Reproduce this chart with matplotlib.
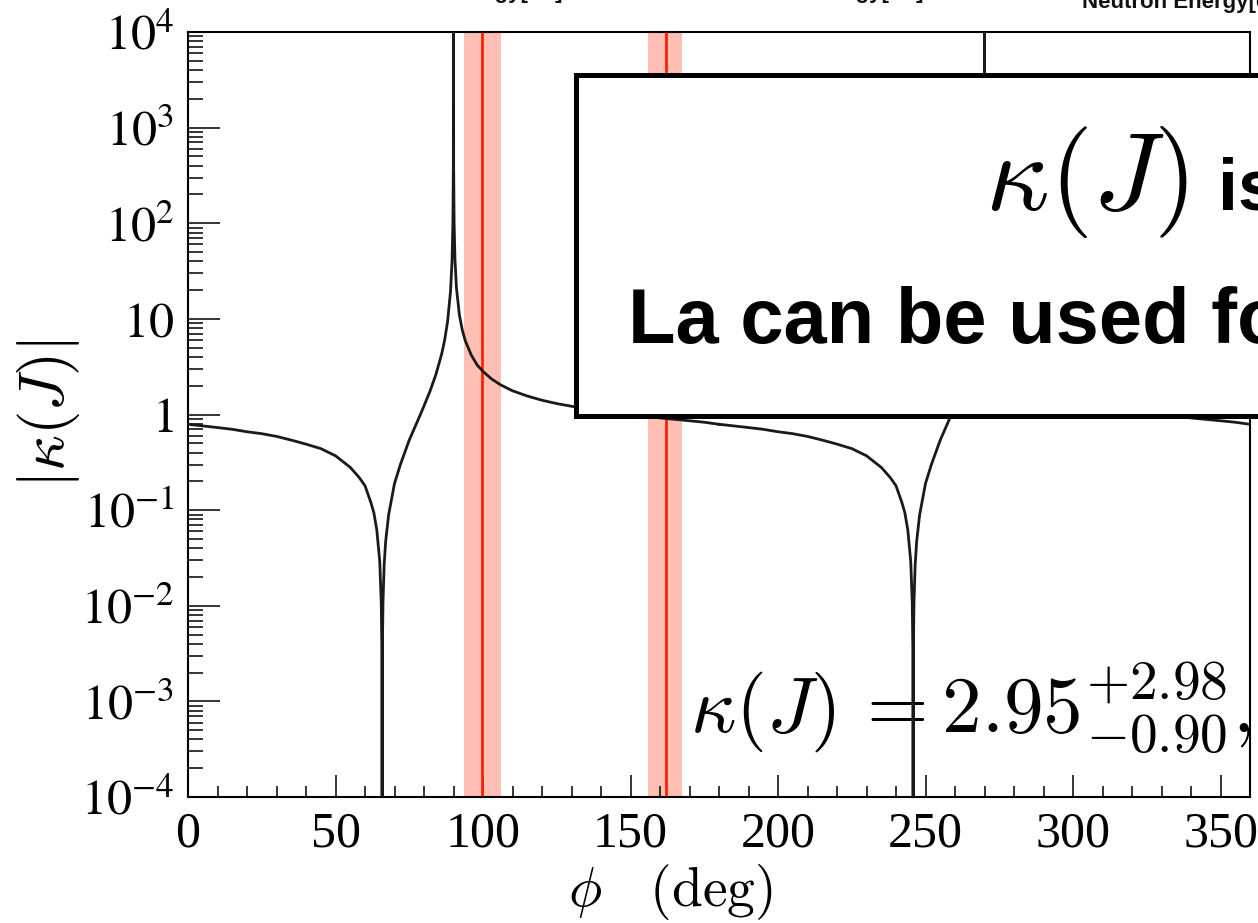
import matplotlib
matplotlib.use("Agg")
import matplotlib.pyplot as plt
from matplotlib.patches import Rectangle
from matplotlib.ticker import FixedLocator, LogLocator, MultipleLocator, NullFormatter

# 1. DATA
phi_a = [0, 5, 10, 15, 20, 25, 30, 35, 40, 45, 50, 55, 58, 60, 62, 63, 64, 65, 65.5, 65.7,
         65.8, 65.9, 66.1, 66.5, 67, 68, 70, 72, 75, 78, 80, 82, 84, 86, 87, 88, 89, 89.5,
         89.8, 89.95, 90, 90.05, 90.2, 90.5, 91, 92, 93, 94, 96, 98, 100, 103, 106, 110,
         115, 120, 125, 130, 135, 140, 145, 150, 155, 160, 165, 170, 175, 180]
phi_b = [180, 185, 190, 195, 200, 205, 210, 215, 220, 225, 230, 235, 238, 240, 242, 243, 244,
         245, 245.5, 245.7, 245.8, 245.9, 246.1, 246.5, 247, 248, 250, 252, 255, 258, 260,
         262, 264, 266, 267, 268, 269, 269.5, 269.8, 269.95, 270, 270.05, 270.2, 270.5, 271,
         272, 273, 274, 276, 278, 280, 283, 286, 290, 295, 300, 305, 310, 315, 320, 325, 330,
         335, 340, 345, 350, 355, 360]
kappa_a = [0.79, 0.76, 0.73, 0.70, 0.66, 0.63, 0.59, 0.54, 0.49, 0.44, 0.37, 0.28, 0.22, 0.18,
           0.12, 0.094, 0.062, 0.029, 0.011, 0.0037, 1e-6, 0.0037, 0.011, 0.027, 0.047, 0.089,
           0.19, 0.30, 0.54, 0.88, 1.23, 1.74, 2.6, 4.3, 6.0, 9.4, 19.6, 40, 101, 408, 1e6,
           409, 103, 42, 21, 11, 7.6, 5.9, 4.2, 3.3, 2.82, 2.34, 2.04, 1.77, 1.56, 1.41, 1.30,
           1.22, 1.15, 1.09, 1.04, 1.00, 0.96, 0.92, 0.89, 0.86, 0.83, 0.79]
kappa_b = [0.79, 0.76, 0.73, 0.70, 0.66, 0.63, 0.59, 0.54, 0.49, 0.44, 0.37, 0.28, 0.22, 0.18,
           0.12, 0.094, 0.062, 0.029, 0.011, 0.0037, 1e-6, 0.0037, 0.011, 0.027, 0.047, 0.089,
           0.19, 0.30, 0.54, 0.88, 1.23, 1.74, 2.6, 4.3, 6.0, 9.4, 19.6, 40, 101, 408, 1e6,
           409, 103, 42, 21, 11, 7.6, 5.9, 4.2, 3.3, 2.82, 2.34, 2.04, 1.77, 1.56, 1.41, 1.30,
           1.22, 1.15, 1.09, 1.04, 1.00, 0.96, 0.92, 0.89, 0.86, 0.83, 0.79]

res_phi = [99.5, 162.0]
res_lo = [93.5, 156.0]
res_hi = [106.0, 167.5]

ytick_vals = [1e-4, 1e-3, 1e-2, 1e-1, 1, 10, 1e2, 1e3, 1e4]
ytick_labels = [r"$10^{-4}$", r"$10^{-3}$", r"$10^{-2}$", r"$10^{-1}$", r"$1$", r"$10$",
                r"$10^{2}$", r"$10^{3}$", r"$10^{4}$"]
xtick_vals = [0, 50, 100, 150, 200, 250, 300, 350]

# 2. STYLE
plt.rcParams["font.family"] = ["Liberation Serif", "DejaVu Serif"]
plt.rcParams["mathtext.fontset"] = "stix"

W, H = 1258, 923
fig = plt.figure(figsize=(W / 100, H / 100), dpi=100)
ax = fig.add_axes([188 / W, 1 - 797 / H, (1250 - 188) / W, (797 - 32) / H])

# 3. PLOT
for lo, hi, c in zip(res_lo, res_hi, res_phi):
    ax.axvspan(lo, hi, color="#ffbfb4", lw=0, zorder=1)
    ax.axvline(c, color="#ff2200", lw=2.0, zorder=2)

ax.plot(phi_a, kappa_a, color="#1a1a1a", lw=2.0, zorder=4)
ax.plot(phi_b, kappa_b, color="#1a1a1a", lw=2.0, zorder=4)

ax.set_yscale("log")
ax.set_xlim(0, 360)
ax.set_ylim(1e-4, 1e4)

ax.yaxis.set_major_locator(FixedLocator(ytick_vals))
ax.set_yticklabels(ytick_labels)
ax.yaxis.set_minor_locator(LogLocator(base=10, subs=range(2, 10), numticks=20))
ax.yaxis.set_minor_formatter(NullFormatter())
ax.set_xticks(xtick_vals)
ax.xaxis.set_minor_locator(MultipleLocator(10))

ax.tick_params(which="both", direction="in", top=False, right=False, width=1.1,
               labelsize=36, pad=10)
ax.tick_params(axis="y", which="major", length=23)
ax.tick_params(axis="y", which="minor", length=11)
ax.tick_params(axis="x", which="major", length=16)
ax.tick_params(axis="x", which="minor", length=8)
for s in ax.spines.values():
    s.set_linewidth(1.5)

# axis titles
fig.text(48 / W, 1 - 414 / H, r"$|\kappa(J)|$", rotation=90, ha="center", va="center",
         fontsize=45, math_fontfamily="cm")
fig.text(568 / W, 1 - 862 / H, r"$\phi\quad(\mathrm{deg})$", ha="left", va="top",
         fontsize=40, math_fontfamily="cm")

# result text, under the curve
ax.text(690 / W, 1 - 732 / H, r"$\kappa(J)\,= 2.95^{+2.98}_{-0.90},$", ha="left",
        va="baseline", fontsize=57, math_fontfamily="cm", transform=fig.transFigure,
        clip_on=False, zorder=3)

# 4. SLIDE OVERLAY
fig.add_artist(Rectangle((575.5 / W, 1 - 415.5 / H), 800 / W, 340 / H,
                         transform=fig.transFigure, fc="white", ec="black", lw=3.6, zorder=5))
fig.text(985 / W, 1 - 210 / H, r"$\kappa(J)$", ha="left", va="baseline", fontsize=80,
         math_fontfamily="cm", zorder=6)
fig.text(1218 / W, 1 - 210 / H, "is", ha="left", va="baseline", fontsize=52,
         family="Liberation Sans", weight="bold", zorder=6)
fig.text(628 / W, 1 - 343 / H, "La can be used for", ha="left", va="baseline", fontsize=56,
         family="Liberation Sans", weight="bold", zorder=6)

# cut-off titles of the plots above
for x0, yb in [(354, -1.5), (715, -1.5), (1082, 8)]:
    fig.text(x0 / W, 1 - yb / H, "Neutron Energy[eV]", ha="left", va="baseline", fontsize=16,
             family="Liberation Sans", weight="bold", color="#111111")

fig.savefig("out.png", dpi=100)
